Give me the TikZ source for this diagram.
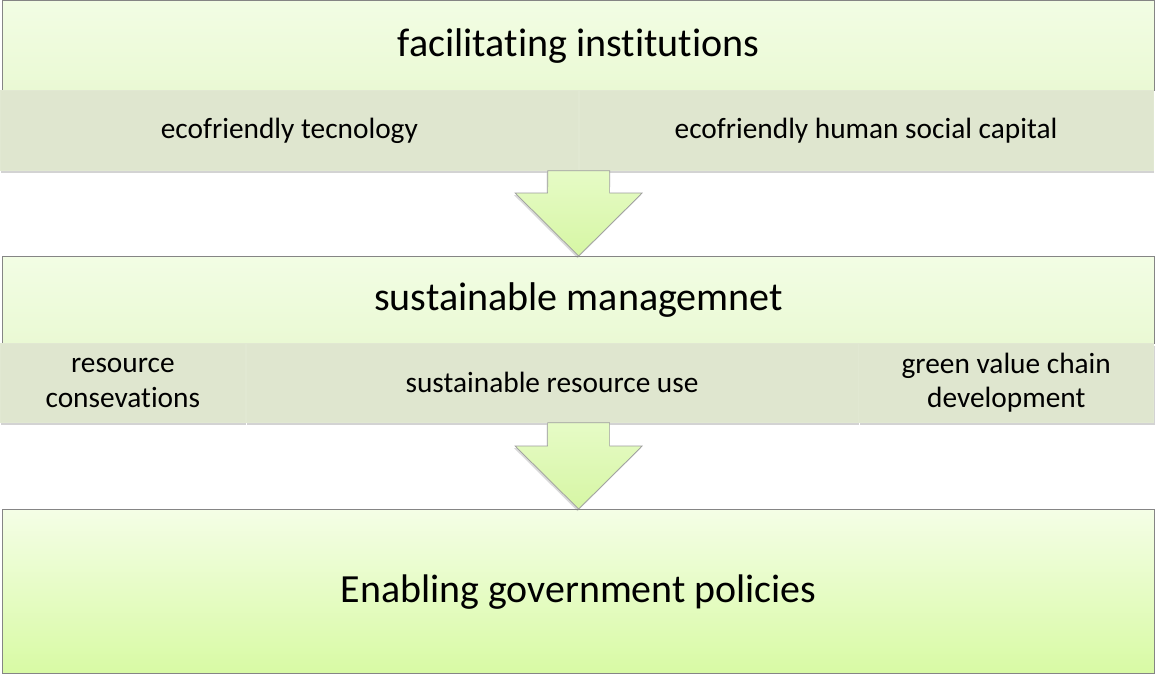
\documentclass[tikz,border=0pt]{standalone}
\usepackage{fontspec}
\setmainfont{Carlito}[Ligatures=NoCommon]
\usetikzlibrary{positioning}
\usetikzlibrary{calc}
\usetikzlibrary{shadows}
\definecolor{headtop}{HTML}{F2FDE4}
\definecolor{headbot}{HTML}{EAF9D4}
\definecolor{bandfill}{HTML}{DFE6CF}
\definecolor{bandline}{HTML}{E1E8D2}
\definecolor{basetop}{HTML}{F4FEE6}
\definecolor{basebot}{HTML}{D8FAA4}
\definecolor{arrowtop}{HTML}{E6FBC6}
\definecolor{arrowbot}{HTML}{D6F6A4}
\definecolor{rim}{HTML}{858585}
\tikzset{header/.style = {draw=rim, line width=0.7pt, shading=axis,
                          top color=headtop, bottom color=headbot,
                          anchor=north west, inner sep=0,
                          minimum width=23.04cm, font=\fontsize{22.8}{26}\selectfont}}
\tikzset{band/.style = {draw=bandline, line width=0.4pt, fill=bandfill,
                        anchor=north west, inner sep=0, align=center,
                        font=\fontsize{16.7}{19.5}\selectfont,
                        drop shadow={shadow xshift=0.6pt, shadow yshift=-1.6pt,
                                     opacity=0.35}}}
\tikzset{base/.style = {draw=rim, line width=0.7pt, shading=axis,
                        top color=basetop, bottom color=basebot,
                        anchor=north west, inner sep=0,
                        minimum width=23.04cm, minimum height=3.28cm,
                        font=\fontsize{22.7}{26}\selectfont}}
\tikzset{blockarrow/.style = {draw=rim!80, line width=0.4pt, shading=axis,
                              top color=arrowtop, bottom color=arrowbot,
                              drop shadow={shadow xshift=-0.6pt, shadow yshift=-1.2pt,
                                           opacity=0.3}}}
% block arrow pointing down from #1 to the tip #2
\newcommand{\blockdown}[2]{%
  \path[blockarrow] ($(#1)+(-0.62,0)$) -- ($(#1)+(0.62,0)$)
    -- ($(#2)+(0.62,1.26)$) -- ($(#2)+(1.27,1.26)$) -- (#2)
    -- ($(#2)+(-1.27,1.26)$) -- ($(#2)+(-0.62,1.26)$) -- cycle;}

\begin{document}
\begin{tikzpicture}
  \useasboundingbox (0,0) rectangle (23.1,-13.48);

  % first block
  \node[header, minimum height=1.8cm] (inst) at (0.04,0) {facilitating institutions};
  \node[band, minimum width=11.56cm, minimum height=1.6cm] (tech)
    at (0,-1.8) {ecofriendly tecnology};
  \node[band, minimum width=11.48cm, minimum height=1.6cm, right=0 of tech] (capital)
    {ecofriendly human social capital};

  % second block
  \node[header, minimum height=1.74cm] (manage) at (0.04,-5.12) {sustainable managemnet};
  \node[band, minimum width=4.9cm, minimum height=1.58cm] (conserve)
    at (0,-6.86) {resource\\consevations};
  \node[band, minimum width=12.24cm, minimum height=1.58cm, right=0 of conserve] (use)
    {sustainable resource use};
  \node[band, minimum width=5.9cm, minimum height=1.58cm, right=0 of use] (chain)
    {green value chain\\development};

  % last block
  \node[base] (policy) at (0.04,-10.18) {Enabling government policies};

  \blockdown{tech.south east}{manage.north}
  \blockdown{manage.south |- use.south}{policy.north}
\end{tikzpicture}
\end{document}
